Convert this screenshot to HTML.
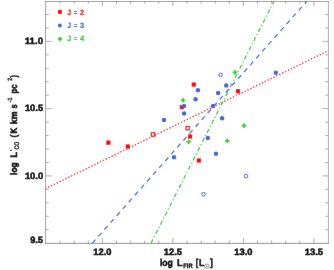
<!DOCTYPE html><html><head><meta charset="utf-8"><style>html,body{margin:0;padding:0;background:#fff;overflow:hidden}svg{display:block}text{font-family:"Liberation Sans",sans-serif;font-weight:bold;fill:#000;stroke:#000;stroke-width:0.5px;text-rendering:geometricPrecision}</style></head><body>
<svg width="334" height="270" viewBox="0 0 334 270">
<defs><clipPath id="c"><rect x="45.6" y="1.0" width="282.79999999999995" height="242.2"/></clipPath><filter id="b" x="0" y="0" width="334" height="270" filterUnits="userSpaceOnUse"><feConvolveMatrix order="3" kernelMatrix="0.0009 0.0278 0.0009 0.0278 0.8855 0.0278 0.0009 0.0278 0.0009" edgeMode="duplicate" preserveAlpha="true"/></filter></defs>
<rect width="334" height="270" fill="#fff"/>
<g filter="url(#b)">
<rect width="334" height="270" fill="#fff"/>
<path d="M60.10,243.2v-2.7M60.10,1.0v2.7M74.20,243.2v-2.7M74.20,1.0v2.7M88.30,243.2v-2.7M88.30,1.0v2.7M102.40,243.2v-5.2M102.40,1.0v5.2M116.50,243.2v-2.7M116.50,1.0v2.7M130.60,243.2v-2.7M130.60,1.0v2.7M144.70,243.2v-2.7M144.70,1.0v2.7M158.80,243.2v-2.7M158.80,1.0v2.7M172.90,243.2v-5.2M172.90,1.0v5.2M187.00,243.2v-2.7M187.00,1.0v2.7M201.10,243.2v-2.7M201.10,1.0v2.7M215.20,243.2v-2.7M215.20,1.0v2.7M229.30,243.2v-2.7M229.30,1.0v2.7M243.40,243.2v-5.2M243.40,1.0v5.2M257.50,243.2v-2.7M257.50,1.0v2.7M271.60,243.2v-2.7M271.60,1.0v2.7M285.70,243.2v-2.7M285.70,1.0v2.7M299.80,243.2v-2.7M299.80,1.0v2.7M313.90,243.2v-5.2M313.90,1.0v5.2M45.6,229.74h3.2M328.4,229.74h-3.2M45.6,216.29h3.2M328.4,216.29h-3.2M45.6,202.83h3.2M328.4,202.83h-3.2M45.6,189.38h3.2M328.4,189.38h-3.2M45.6,175.92h6.0M328.4,175.92h-6.0M45.6,162.47h3.2M328.4,162.47h-3.2M45.6,149.01h3.2M328.4,149.01h-3.2M45.6,135.56h3.2M328.4,135.56h-3.2M45.6,122.10h3.2M328.4,122.10h-3.2M45.6,108.64h6.0M328.4,108.64h-6.0M45.6,95.19h3.2M328.4,95.19h-3.2M45.6,81.73h3.2M328.4,81.73h-3.2M45.6,68.28h3.2M328.4,68.28h-3.2M45.6,54.82h3.2M328.4,54.82h-3.2M45.6,41.37h6.0M328.4,41.37h-6.0M45.6,27.91h3.2M328.4,27.91h-3.2M45.6,14.46h3.2M328.4,14.46h-3.2" stroke="#929292" stroke-width="0.75" fill="none"/>
<g clip-path="url(#c)" fill="none">
<path d="M45.6,188.51L328.4,50.65" stroke="#ff0000" stroke-width="1.25" stroke-dasharray="1.3 1.915" stroke-dashoffset="0.55"/>
<path d="M92.35,243.2L308,-0.18" stroke="#4169e1" stroke-width="1.25" stroke-dasharray="4.75 4.4"/>
<path d="M150.95,243.2L275,-0.81" stroke="#32cd32" stroke-width="1.25" stroke-dasharray="4.3 2.4 1.2 2.4" stroke-dashoffset="10.1"/>
</g>
<path d="M45.6,1.2V243.54999999999998" stroke="#9e9e9e" stroke-width="1.0" fill="none"/>
<path d="M328.4,1.2V243.54999999999998" stroke="#aaaaaa" stroke-width="1.0" fill="none"/>
<path d="M45.1,243.35H328.9" stroke="#6c6c6c" stroke-width="0.75" fill="none"/>
<path d="M45.1,1.5H328.9" stroke="#6a6a6a" stroke-width="0.62" fill="none"/>
<rect x="191.65" y="82.45" width="4.2" height="4.2" fill="#ff0000"/>
<rect x="179.80" y="105.00" width="4.2" height="4.2" fill="#ff0000"/>
<rect x="235.90" y="89.10" width="4.2" height="4.2" fill="#ff0000"/>
<rect x="106.30" y="140.50" width="4.2" height="4.2" fill="#ff0000"/>
<rect x="125.70" y="144.40" width="4.2" height="4.2" fill="#ff0000"/>
<rect x="188.00" y="134.40" width="4.2" height="4.2" fill="#ff0000"/>
<rect x="196.70" y="158.40" width="4.2" height="4.2" fill="#ff0000"/>
<circle cx="197.96" cy="90.19" r="2.25" fill="#4169e1"/>
<circle cx="195.60" cy="99.20" r="2.25" fill="#4169e1"/>
<circle cx="184.10" cy="106.00" r="2.25" fill="#4169e1"/>
<circle cx="184.10" cy="113.50" r="2.25" fill="#4169e1"/>
<circle cx="164.00" cy="119.90" r="2.25" fill="#4169e1"/>
<circle cx="213.00" cy="106.10" r="2.25" fill="#4169e1"/>
<circle cx="275.80" cy="72.70" r="2.25" fill="#4169e1"/>
<circle cx="226.20" cy="85.60" r="2.25" fill="#4169e1"/>
<circle cx="218.10" cy="92.90" r="2.25" fill="#4169e1"/>
<circle cx="222.10" cy="118.30" r="2.25" fill="#4169e1"/>
<circle cx="207.80" cy="137.90" r="2.25" fill="#4169e1"/>
<circle cx="174.00" cy="157.20" r="2.25" fill="#4169e1"/>
<circle cx="216.00" cy="153.80" r="2.25" fill="#4169e1"/>
<path d="M180.65,99.38H182.18V97.85H183.82V99.38H185.35V101.02H183.82V102.55H182.18V101.02H180.65Z" fill="#32cd32"/>
<path d="M232.65,71.53H234.18V70.00H235.82V71.53H237.35V73.17H235.82V74.70H234.18V73.17H232.65Z" fill="#32cd32"/>
<path d="M241.65,124.78H243.18V123.25H244.82V124.78H246.35V126.42H244.82V127.95H243.18V126.42H241.65Z" fill="#32cd32"/>
<path d="M224.89,140.11H226.42V138.58H228.06V140.11H229.59V141.75H228.06V143.28H226.42V141.75H224.89Z" fill="#32cd32"/>
<path d="M186.25,140.98H187.78V139.45H189.42V140.98H190.95V142.62H189.42V144.15H187.78V142.62H186.25Z" fill="#32cd32"/>
<rect x="151.30" y="132.80" width="3.4" height="3.4" fill="#fff" stroke="#ff0000" stroke-width="1.15"/>
<rect x="186.00" y="126.40" width="3.4" height="3.4" fill="#fff" stroke="#ff0000" stroke-width="1.15"/>
<circle cx="220.60" cy="74.80" r="1.82" fill="#fff" stroke="#4169e1" stroke-width="1.0"/>
<circle cx="246.10" cy="176.10" r="1.82" fill="#fff" stroke="#4169e1" stroke-width="1.0"/>
<circle cx="203.60" cy="194.30" r="1.82" fill="#fff" stroke="#4169e1" stroke-width="1.0"/>
<rect x="57.95" y="9.95" width="3.9" height="3.9" fill="#ff0000"/>
<circle cx="59.85" cy="25.55" r="1.95" fill="#4169e1"/>
<path d="M57.70,38.05H59.05V36.70H60.75V38.05H62.10V39.75H60.75V41.10H59.05V39.75H57.70Z" fill="#32cd32"/>
<text transform="translate(67.20,14.75) scale(0.888,1)" font-size="7.7" style="fill:#ff0000;stroke:#ff0000;stroke-width:0.2px">J</text>
<text transform="translate(73.80,14.75) scale(0.823,1)" font-size="7.7" style="fill:#ff0000;stroke:#ff0000;stroke-width:0.05px">=</text>
<text transform="translate(80.00,14.75) scale(0.958,1)" font-size="7.7" style="fill:#ff0000;stroke:#ff0000;stroke-width:0.2px">2</text>
<text transform="translate(67.20,28.00) scale(0.888,1)" font-size="7.7" style="fill:#4169e1;stroke:#4169e1;stroke-width:0.2px">J</text>
<text transform="translate(73.80,28.00) scale(0.823,1)" font-size="7.7" style="fill:#4169e1;stroke:#4169e1;stroke-width:0.05px">=</text>
<text transform="translate(80.00,28.00) scale(0.958,1)" font-size="7.7" style="fill:#4169e1;stroke:#4169e1;stroke-width:0.2px">3</text>
<text transform="translate(67.20,41.40) scale(0.888,1)" font-size="7.7" style="fill:#32cd32;stroke:#32cd32;stroke-width:0.2px">J</text>
<text transform="translate(73.80,41.40) scale(0.823,1)" font-size="7.7" style="fill:#32cd32;stroke:#32cd32;stroke-width:0.05px">=</text>
<text transform="translate(80.00,41.40) scale(0.958,1)" font-size="7.7" style="fill:#32cd32;stroke:#32cd32;stroke-width:0.2px">4</text>
<text transform="translate(24.80,44.17) scale(1.046,1)" font-size="9.2" style="fill:#000;stroke:#000">11.0</text>
<text transform="translate(24.90,111.44) scale(1.017,1)" font-size="9.2" style="fill:#000;stroke:#000">10.5</text>
<text transform="translate(24.90,178.72) scale(1.017,1)" font-size="9.2" style="fill:#000;stroke:#000">10.0</text>
<text transform="translate(30.20,243.10) scale(1.001,1)" font-size="9.2" style="fill:#000;stroke:#000">9.5</text>
<text transform="translate(93.30,255.45) scale(1.017,1)" font-size="9.2" style="fill:#000;stroke:#000">12.0</text>
<text transform="translate(163.80,255.45) scale(1.017,1)" font-size="9.2" style="fill:#000;stroke:#000">12.5</text>
<text transform="translate(234.30,255.45) scale(1.017,1)" font-size="9.2" style="fill:#000;stroke:#000">13.0</text>
<text transform="translate(304.80,255.45) scale(1.017,1)" font-size="9.2" style="fill:#000;stroke:#000">13.5</text>
<text transform="translate(159.90,265.80) scale(0.875,1)" font-size="9.9" style="fill:#000;stroke:#000">log</text>
<text transform="translate(176.90,265.80) scale(0.926,1)" font-size="9.9" style="fill:#000;stroke:#000">L</text>
<text transform="translate(183.20,268.00) scale(0.898,1)" font-size="6.5" style="fill:#000;stroke:#000;stroke-width:0.3px">FIR</text>
<text transform="translate(195.70,265.80) scale(0.758,1)" font-size="9.9" style="fill:#000;stroke:#000">[</text>
<text transform="translate(198.90,265.80) scale(0.876,1)" font-size="9.9" style="fill:#000;stroke:#000">L</text>
<circle cx="206.8" cy="266.2" r="2.2" fill="none" stroke="#3a3a3a" stroke-width="0.55"/><circle cx="206.8" cy="266.2" r="0.55" fill="#333"/>
<text transform="translate(210.10,265.80) scale(0.849,1)" font-size="9.9" style="fill:#000;stroke:#000">]</text>
<text transform="translate(16.70,174.90) rotate(-90) scale(0.863,1)" font-size="9.5">log</text>
<text transform="translate(16.70,157.70) rotate(-90) scale(1.016,1)" font-size="9.5">L</text>
<path d="M10.3,150.9L11.7,149.9" stroke="#000" stroke-width="1.1" fill="none"/>
<text transform="translate(18.70,149.60) rotate(-90) scale(0.765,1)" font-size="6.8" style="stroke-width:0.25px">CO</text>
<text transform="translate(16.70,137.40) rotate(-90) scale(0.885,1)" font-size="9.5">(</text>
<text transform="translate(16.70,133.60) rotate(-90) scale(0.846,1)" font-size="9.5">K</text>
<text transform="translate(16.70,124.60) rotate(-90) scale(0.969,1)" font-size="9.5">km</text>
<text transform="translate(16.70,108.50) rotate(-90) scale(0.776,1)" font-size="9.5">s</text>
<text transform="translate(12.10,102.30) rotate(-90) scale(0.839,1)" font-size="6.3" style="stroke-width:0.25px">-1</text>
<text transform="translate(16.70,93.50) rotate(-90) scale(0.803,1)" font-size="9.5">pc</text>
<text transform="translate(12.10,80.80) rotate(-90) scale(0.828,1)" font-size="6.3" style="stroke-width:0.25px">2</text>
<text transform="translate(16.70,77.60) rotate(-90) scale(0.790,1)" font-size="9.5">)</text>
</g>
</svg></body></html>
